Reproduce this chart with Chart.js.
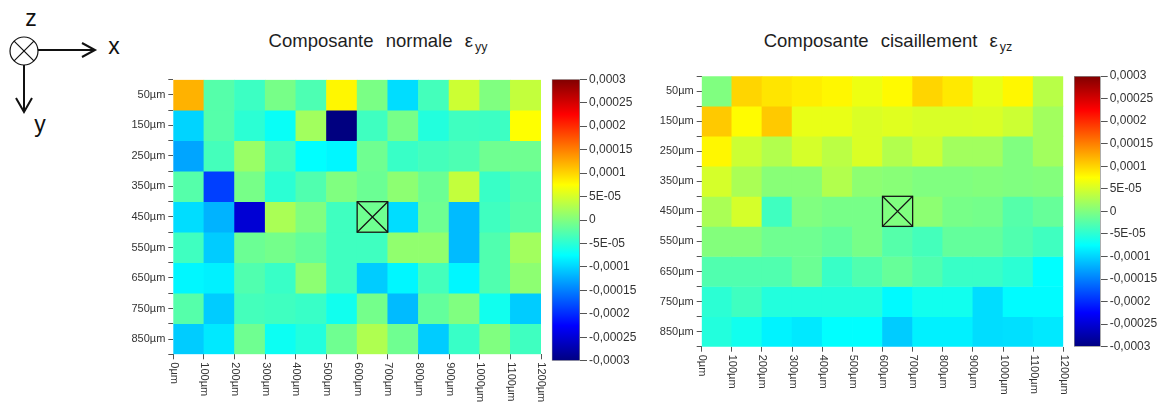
<!DOCTYPE html>
<html><head><meta charset="utf-8">
<script src="https://cdn.jsdelivr.net/npm/chart.js@4.4.1/dist/chart.umd.min.js"></script>
<style>
body{margin:0;width:1164px;height:404px;background:#fff;position:relative;overflow:hidden;font-family:'Liberation Sans',Arial,sans-serif;}
.c{position:absolute;}
.title{position:absolute;font-size:18.5px;color:#1e1e1e;white-space:nowrap;transform:translateX(-50%);word-spacing:7px;line-height:18px}
.title sub{font-size:12.5px;vertical-align:-4px;word-spacing:0;line-height:0;margin-left:2px}
</style></head><body>
<svg class="c" style="left:0;top:0" width="140" height="145">
  <g stroke="#111" fill="none">
    <circle cx="24" cy="51" r="14" stroke-width="1.2"/>
    <line x1="14.1" y1="41.1" x2="33.9" y2="60.9" stroke-width="1.2"/>
    <line x1="33.9" y1="41.1" x2="14.1" y2="60.9" stroke-width="1.2"/>
    <line x1="38" y1="50" x2="95" y2="50" stroke-width="2"/>
    <polyline points="82,43 95,50 82,57" stroke-width="2"/>
    <line x1="24" y1="65" x2="24" y2="112" stroke-width="2"/>
    <polyline points="16,98 24,112 32,98" stroke-width="2"/>
  </g>
  <g font-family="Liberation Sans, Arial, sans-serif" font-size="23" fill="#111">
    <text x="31" y="26" text-anchor="middle">z</text>
    <text x="114" y="54" text-anchor="middle">x</text>
    <text x="40" y="132" text-anchor="middle">y</text>
  </g>
</svg>
<div class="title" style="left:378px;top:32px">Composante normale ε<sub>yy</sub></div>
<div class="title" style="left:888px;top:32px">Composante cisaillement ε<sub>yz</sub></div>
<canvas class="c" id="h1" width="450" height="334" style="left:100px;top:70px"></canvas>
<canvas class="c" id="cb1" width="110" height="300" style="left:548px;top:70px"></canvas>
<canvas class="c" id="h2" width="440" height="344" style="left:630px;top:60px"></canvas>
<canvas class="c" id="cb2" width="94" height="290" style="left:1070px;top:66px"></canvas>
<script>
// Grid coordinates (µm)
const xEdges = [0,100,200,300,400,500,600,700,800,900,1000,1100,1200];
const xTickLabels = ['0µm','100µm','200µm','300µm','400µm','500µm','600µm','700µm','800µm','900µm','1000µm','1100µm','1200µm'];
const xCenters = [50,150,250,350,450,550,650,750,850,950,1050,1150];
const yCenters = [50,150,250,350,450,550,650,750,850];
const yTickLabels = ['50µm','150µm','250µm','350µm','450µm','550µm','650µm','750µm','850µm'];
const markerCell = [650,450];

// Strain values, in units of 1e-4 (rows y = 50..850 µm, columns x = 50..1150 µm)
const eyy_50  = [ 1.20,-0.25,-0.40,-0.05,-0.30, 0.80,-0.03,-0.95,-0.35, 0.45, 0.00, 0.40];
const eyy_150 = [-1.00,-0.25,-0.50,-0.70, 0.20,-3.00,-0.38,-0.05,-0.55,-0.38,-0.40, 0.75];
const eyy_250 = [-1.28,-0.35, 0.15,-0.35,-0.75,-0.80,-0.10,-0.42,-0.35,-0.30,-0.10,-0.10];
const eyy_350 = [-0.25,-1.88,-0.05,-0.50,-0.28, 0.00,-0.12, 0.08,-0.12, 0.40,-0.42,-0.28];
const eyy_450 = [-0.95,-1.20,-2.50, 0.25, 0.00,-0.38,-0.10,-0.95,-0.10,-1.15,-0.38,-0.25];
const eyy_550 = [-0.38,-1.05,-0.12,-0.07,-0.17,-0.38,-0.38, 0.10, 0.10,-1.15,-0.28, 0.20];
const eyy_650 = [-0.80,-0.83,-0.28,-0.42, 0.08,-0.38,-1.05,-0.80,-0.35,-0.80,-0.28, 0.08];
const eyy_750 = [-0.25,-1.05,-0.35,-0.38,-0.42,-0.65,-0.07,-1.15,-0.17, 0.00,-0.65,-1.05];
const eyy_850 = [-1.05,-0.88,-0.10,-0.68,-0.55,-0.10, 0.28,-0.10,-1.05,-0.42, 0.00,-0.38];

const eyz_50  = [ 0.00, 1.00, 0.90, 0.85, 0.80, 0.65, 0.78, 1.00, 0.88, 0.62, 0.80, 0.33];
const eyz_150 = [ 1.07, 0.77, 1.07, 0.62, 0.62, 0.53, 0.57, 0.52, 0.52, 0.53, 0.45, 0.20];
const eyz_250 = [ 0.80, 0.45, 0.30, 0.50, 0.35, 0.53, 0.30, 0.45, 0.20, 0.20, 0.00, 0.20];
const eyz_350 = [ 0.50, 0.25, 0.05, 0.05, 0.30, 0.08, 0.05, 0.00, 0.00, 0.02, 0.00, 0.02];
const eyz_450 = [ 0.25, 0.50,-0.38, 0.00,-0.05,-0.05, 0.00, 0.08,-0.05,-0.07,-0.25,-0.15];
const eyz_550 = [ 0.02, 0.02,-0.10,-0.10,-0.17,-0.05,-0.25,-0.35,-0.17,-0.17,-0.28,-0.38];
const eyz_650 = [-0.28,-0.28,-0.28,-0.12,-0.42,-0.28,-0.15,-0.28,-0.42,-0.42,-0.50,-0.75];
const eyz_750 = [-0.50,-0.38,-0.55,-0.55,-0.55,-0.55,-0.78,-0.65,-0.65,-0.95,-0.77,-0.77];
const eyz_850 = [-0.55,-0.65,-0.82,-0.88,-0.75,-0.75,-1.05,-0.83,-0.83,-0.95,-0.93,-0.88];

const eyyRows = [eyy_50,eyy_150,eyy_250,eyy_350,eyy_450,eyy_550,eyy_650,eyy_750,eyy_850];
const eyzRows = [eyz_50,eyz_150,eyz_250,eyz_350,eyz_450,eyz_550,eyz_650,eyz_750,eyz_850];

// colour scale (units 1e-4)
const cbMin = -3, cbMax = 3;
const cbLabels = ['-0,0003','-0,00025','-0,0002','-0,00015','-0,0001','-5E-05','0','5E-05','0,0001','0,00015','0,0002','0,00025','0,0003'];

const FONT = "'Liberation Sans Narrow','Liberation Sans',Arial,sans-serif";
const FONT_R = "'Liberation Sans',Arial,sans-serif";
const TXT = '#333';

function clamp(v){return Math.max(0,Math.min(1,v));}
function jet(v){
  const t = clamp((v-cbMin)/(cbMax-cbMin));
  const r = clamp(1.5-Math.abs(4*t-3)), g = clamp(1.5-Math.abs(4*t-2)), b = clamp(1.5-Math.abs(4*t-1));
  return `rgb(${Math.round(r*255)},${Math.round(g*255)},${Math.round(b*255)})`;
}

const heatExtras = {
  id:'heatExtras',
  afterDatasetsDraw(chart){
    const {ctx, scales:{x,y}} = chart;
    const l = x.getPixelForValue(markerCell[0]-50), r = x.getPixelForValue(markerCell[0]+50);
    const t = y.getPixelForValue(markerCell[1]-50), b = y.getPixelForValue(markerCell[1]+50);
    ctx.save();
    ctx.strokeStyle = '#151515'; ctx.lineWidth = 1.3;
    ctx.strokeRect(l,t,r-l,b-t);
    ctx.beginPath(); ctx.moveTo(l,t); ctx.lineTo(r,b); ctx.moveTo(r,t); ctx.lineTo(l,b); ctx.stroke();
    ctx.restore();
  },
  afterDraw(chart){
    const {ctx, scales:{x}} = chart;
    ctx.save();
    ctx.fillStyle = TXT; ctx.font = '11px '+FONT_R;
    ctx.textAlign = 'left'; ctx.textBaseline = 'middle';
    xEdges.forEach((v,i)=>{
      const px = x.getPixelForValue(v);
      ctx.save(); ctx.translate(px+0.5, x.top+8); ctx.rotate(Math.PI/2);
      ctx.fillText(xTickLabels[i],0,0); ctx.restore();
    });
    ctx.restore();
  }
};

function heatmap(id, rows, pad, yW, xH){
  const datasets = rows.map((vals,ri)=>({
    data: vals.map((v,ci)=>({x:xCenters[ci], y:[yCenters[ri]-50, yCenters[ri]+50]})),
    backgroundColor: vals.map(jet),
    borderWidth:0, grouped:false, barPercentage:1, categoryPercentage:1
  }));
  return new Chart(document.getElementById(id), {
    type:'bar',
    data:{datasets},
    plugins:[heatExtras],
    options:{
      responsive:false, animation:false,
      layout:{padding:pad},
      plugins:{legend:{display:false}, tooltip:{enabled:false}},
      scales:{
        x:{type:'linear', min:0, max:1200, offset:false,
           ticks:{stepSize:100, autoSkip:false, callback:()=>'' , padding:0},
           grid:{drawOnChartArea:false, offset:false, tickLength:5, color:'#555'},
           border:{display:false},
           afterFit(s){s.height=xH;}},
        y:{type:'linear', reverse:true, min:0, max:900,
           ticks:{stepSize:50, autoSkip:false, color:TXT, font:{size:11, family:FONT}, padding:3,
                  callback:(v)=> (v%100===50 ? yTickLabels[(v-50)/100] : '')},
           grid:{drawOnChartArea:false, tickLength:5, color:'#555'},
           border:{display:false},
           afterFit(s){s.width=yW;}}
      }
    }
  });
}

function colorbar(id, pad, yW){
  return new Chart(document.getElementById(id), {
    type:'bar',
    data:{labels:['ε'], datasets:[{
      data:[[cbMin,cbMax]],
      backgroundColor:(c)=>{
        const ch = c.chart, a = ch.chartArea; if(!a) return '#fff';
        const g = ch.ctx.createLinearGradient(0,a.bottom,0,a.top);
        [0,0.125,0.375,0.5,0.625,0.875,1].forEach(t=>g.addColorStop(t, jet(cbMin+t*(cbMax-cbMin))));
        return g;
      },
      borderColor:'#8c8c8c', borderWidth:1, borderSkipped:false, barPercentage:1, categoryPercentage:1
    }]},
    options:{
      responsive:false, animation:false,
      layout:{padding:pad},
      plugins:{legend:{display:false}, tooltip:{enabled:false}},
      scales:{
        x:{display:false},
        y:{position:'right', min:cbMin, max:cbMax,
           ticks:{stepSize:0.5, autoSkip:false, color:TXT, font:{size:12, family:FONT_R}, padding:2,
                  callback:(v,i)=>cbLabels[i]},
           grid:{drawOnChartArea:false, tickLength:7, color:'#555'},
           border:{display:false},
           afterFit(s){s.width=yW;}}
      }
    }
  });
}

heatmap('h1', eyyRows, {left:0, top:8.3, right:9, bottom:0}, 73.3, 49.7);
heatmap('h2', eyzRows, {left:0, top:16, right:6.7, bottom:0}, 71.7, 57.3);
colorbar('cb1', {left:3.7, top:8.3, bottom:6.7, right:0}, 78);
colorbar('cb2', {left:4, top:10, bottom:9.3, right:0}, 63.3);
</script>
</body></html>
